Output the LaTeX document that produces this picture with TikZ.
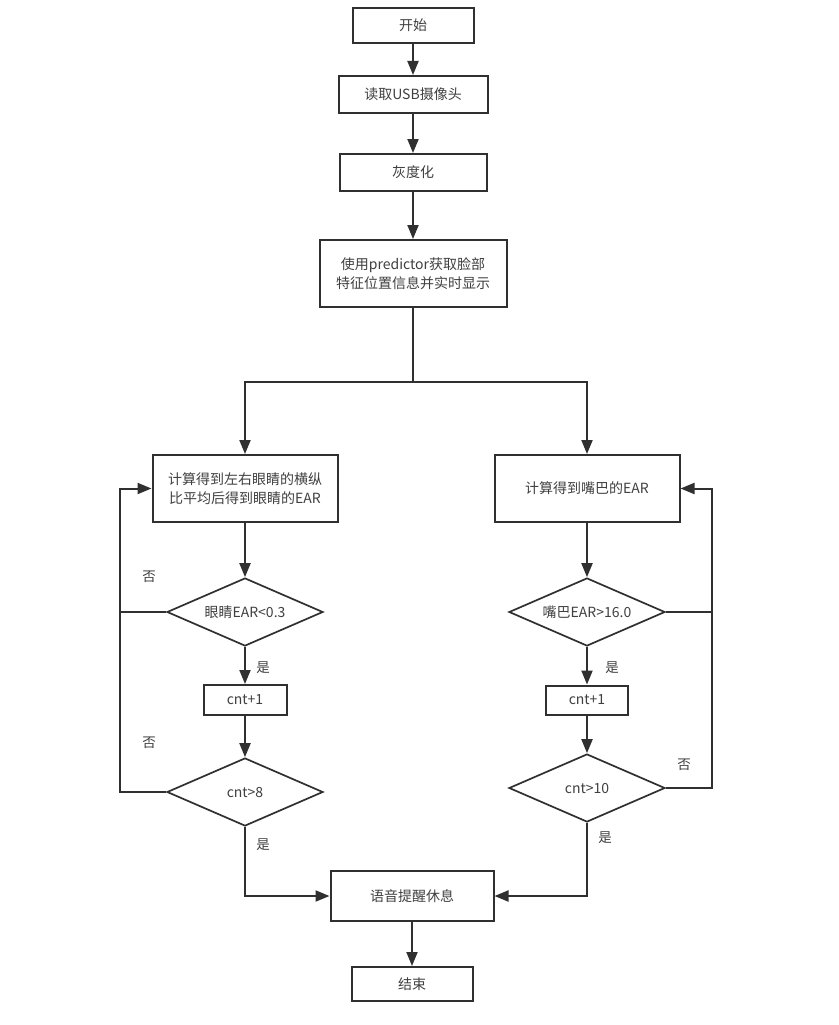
\documentclass[tikz,border=0pt]{standalone}
\usepackage{fontspec}
\setmainfont{Noto Sans CJK SC}
\usetikzlibrary{shapes.geometric,arrows.meta}
\definecolor{ln}{HTML}{303030}
\definecolor{tx}{HTML}{404040}
\begin{document}
\begin{tikzpicture}[x=1pt,y=-1pt,
  every node/.style={font=\fontsize{14}{18.5}\selectfont, text=tx},
  boxnode/.style={draw=ln, line width=2pt, fill=white, rectangle, align=center, inner sep=0pt},
  decnode/.style={draw=ln, line width=1.7pt, fill=white, diamond, aspect=2.3, minimum width=156pt, minimum height=68pt, inner sep=0pt},
  lbl/.style={font=\fontsize{13.5}{16}\selectfont},
  arr/.style={draw=ln, line width=2pt, -{Triangle[length=14pt,width=11pt]}},
  lin/.style={draw=ln, line width=2pt}]
\useasboundingbox (0,0) rectangle (838,1025);
\fill[white] (0,0) rectangle (838,1025);

\node[boxnode, minimum width=121pt, minimum height=35pt] (start) at (413,25.5) {开始};
\node[boxnode, minimum width=149pt, minimum height=37pt] (usb) at (413,94.5) {读取USB摄像头};
\node[boxnode, minimum width=147pt, minimum height=37pt] (gray) at (413,172.5) {灰度化};
\node[boxnode, minimum width=187pt, minimum height=67pt] (pred) at (413,273.5) {使用predictor获取脸部\\特征位置信息并实时显示};
\node[boxnode, minimum width=185pt, minimum height=67pt] (eye) at (245,488.5) {计算得到左右眼睛的横纵\\比平均后得到眼睛的EAR};
\node[boxnode, minimum width=185pt, minimum height=67pt] (mouth) at (587,488.5) {计算得到嘴巴的EAR};
\node[decnode] (d1) at (245,612) {眼睛EAR<0.3};
\node[decnode] (d2) at (587,612) {嘴巴EAR>16.0};
\node[boxnode, minimum width=83pt, minimum height=30pt] (c1) at (245,700) {cnt+1};
\node[boxnode, minimum width=82pt, minimum height=29pt] (c2) at (587,700) {cnt+1};
\node[decnode] (d3) at (245,792) {cnt>8};
\node[decnode] (d4) at (587,788) {cnt>10};
\node[boxnode, minimum width=163pt, minimum height=50pt] (alert) at (412,896) {语音提醒休息};
\node[boxnode, minimum width=121pt, minimum height=34pt] (end) at (412,984) {结束};

\coordinate (split) at (413,382);
\coordinate (lx) at (120,600);
\coordinate (rx) at (712,600);

\draw[arr] (start) -- (usb);
\draw[arr] (usb) -- (gray);
\draw[arr] (gray) -- (pred);
\draw[lin] (pred.south) -- (split);
\draw[arr] (split) -| (eye.north);
\draw[arr] (split) -| (mouth.north);

\draw[arr] (eye) -- (d1);
\draw[arr] (d1) -- (c1);
\draw[arr] (c1) -- (d3);
\draw[arr] (d3.south) |- (alert.west);
\draw[arr] (d1.west) -- (d1.west -| lx) |- (eye.west);
\draw[lin] (d3.west) -- (d3.west -| lx) -- (d1.west -| lx);

\draw[arr] (mouth) -- (d2);
\draw[arr] (d2) -- (c2);
\draw[arr] (c2) -- (d4);
\draw[arr] (d4.south) |- (alert.east);
\draw[arr] (d2.east) -- (d2.east -| rx) |- (mouth.east);
\draw[lin] (d4.east) -- (d4.east -| rx) -- (d2.east -| rx);

\draw[arr] (alert) -- (end);

\node[lbl] (n1) at (149,577) {否};
\node[lbl] (n2) at (149,743) {否};
\node[lbl] (y1) at (263,668) {是};
\node[lbl] (y2) at (263,845) {是};
\node[lbl] (y3) at (612,668) {是};
\node[lbl] (n3) at (684,765) {否};
\node[lbl] (y4) at (605,838) {是};
\end{tikzpicture}
\end{document}
